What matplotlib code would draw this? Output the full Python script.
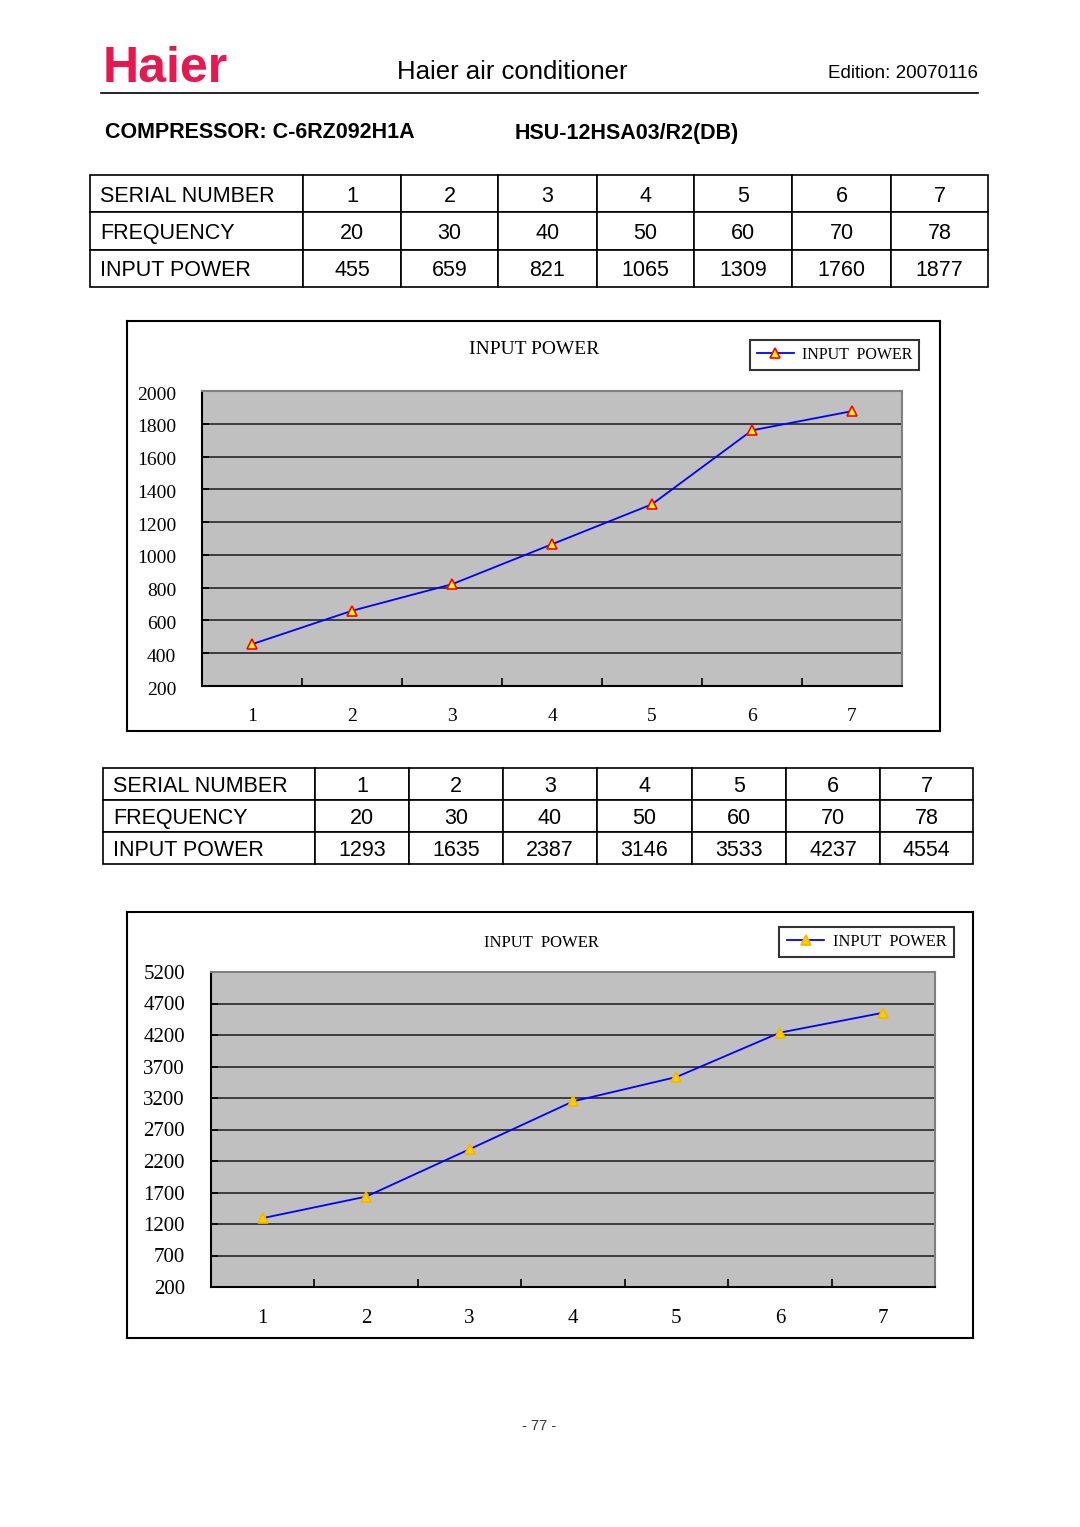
import matplotlib
matplotlib.use("Agg")
import matplotlib.pyplot as plt
from matplotlib.lines import Line2D
from matplotlib.transforms import ScaledTranslation

# ---------------- data ----------------
serial = [1, 2, 3, 4, 5, 6, 7]
freq = [20, 30, 40, 50, 60, 70, 78]
power_1 = [455, 659, 821, 1065, 1309, 1760, 1877]
power_2 = [1293, 1635, 2387, 3146, 3533, 4237, 4554]
row_labels = ["SERIAL NUMBER", "FREQUENCY", "INPUT POWER"]
yticks_1 = [200, 400, 600, 800, 1000, 1200, 1400, 1600, 1800, 2000]
yticks_2 = [200, 700, 1200, 1700, 2200, 2700, 3200, 3700, 4200, 4700, 5200]

W, H = 1080, 1527
fig = plt.figure(figsize=(W / 100, H / 100), dpi=100)
SANS = ["Liberation Sans", "DejaVu Sans"]
SERIF = ["Liberation Serif", "DejaVu Serif"]


def box(x0, y0, x1, y1):
    # pixel box -> figure fraction rect
    return [x0 / W, 1 - y1 / H, (x1 - x0) / W, (y1 - y0) / H]


def px(x, y):
    return x / W, 1 - y / H


# ---------------- header ----------------
fig.text(*px(103, 69), "Haier", fontsize=36, fontweight="bold", color="#e8174f",
         family=SANS, ha="left", va="center")
fig.text(*px(512, 72), "Haier air conditioner", fontsize=18.5, family=SANS,
         ha="center", va="center")
fig.text(*px(978, 73), "Edition: 20070116", fontsize=13.5, family=SANS,
         ha="right", va="center")
fig.add_artist(Line2D([101 / W, 978 / W], [1 - 93 / H, 1 - 93 / H], color="black", lw=1.2))
fig.text(*px(105, 133), "COMPRESSOR: C-6RZ092H1A", fontsize=15.5, fontweight="bold",
         family=SANS, ha="left", va="center")
fig.text(*px(515, 133), "HSU-12HSA03/R2(DB)", fontsize=15.5, fontweight="bold",
         family=SANS, ha="left", va="center")
fig.text(*px(539, 1426), "- 77 -", fontsize=10.5, family=SANS, color="#333333",
         ha="center", va="center")


# ---------------- tables ----------------
def draw_table(rect, col_px, power):
    ax = fig.add_axes(rect)
    ax.axis("off")
    cells = [
        [row_labels[0]] + [str(v) for v in serial],
        [row_labels[1]] + [str(v) for v in freq],
        [row_labels[2]] + [str(v) for v in power],
    ]
    total = sum(col_px)
    widths = [c / total for c in col_px]
    tb = ax.table(cellText=cells, colWidths=widths, cellLoc="center", bbox=[0, 0, 1, 1])
    tb.auto_set_font_size(False)
    tb.set_fontsize(15.5)
    for (r, c), cell in tb.get_celld().items():
        cell.set_linewidth(1.2)
        cell.set_edgecolor("black")
        txt = cell.get_text()
        txt.set_family(SANS)
        txt.set_va("center_baseline")
        if c == 0:
            cell._loc = "left"
            cell.PAD = 10 / col_px[0]
            txt.set_ha("left")
    return ax


draw_table(box(90, 175, 988, 287), [213, 98, 97, 99, 97, 98, 99, 97], power_1)
draw_table(box(103, 768, 973, 864), [212, 94, 94, 94, 95, 94, 94, 93], power_2)


# ---------------- charts ----------------
def draw_chart(frame, area, title, title_xy, leg_rect, values, yticks,
               mface, medge, fs, title_fs, leg_fs, ylab_shift):
    fr = fig.add_axes(box(*frame))
    fr.set_xticks([])
    fr.set_yticks([])
    fr.set_facecolor("white")
    for s in fr.spines.values():
        s.set_linewidth(1.5)
        s.set_color("black")
    fr.set_zorder(0)

    ax = fig.add_axes(box(*area))
    ax.set_zorder(1)
    ax.set_facecolor("#c0c0c0")
    ax.set_axisbelow(True)
    ax.plot(serial, values, color="#0000ff", lw=1.3, marker="^", ms=7,
            mfc=mface, mec=medge, mew=1.2, label="INPUT  POWER", clip_on=False)
    ax.set_xlim(0.5, 7.5)
    ax.set_ylim(yticks[0], yticks[-1])
    ax.set_yticks(yticks)
    ax.set_xticks(serial)
    ax.set_xticks([1.5, 2.5, 3.5, 4.5, 5.5, 6.5, 7.5], minor=True)
    ax.yaxis.grid(True, color="#1a1a1a", lw=1.1)
    ax.tick_params(axis="y", direction="in", length=5, width=1.2, pad=18.7,
                   labelsize=fs)
    ax.tick_params(axis="x", which="major", length=0, pad=15.5, labelsize=fs)
    ax.tick_params(axis="x", which="minor", direction="in", length=6, width=1.2)
    for lab in ax.get_xticklabels():
        lab.set_family(SERIF)
    shift = ScaledTranslation(0, -ylab_shift / 100, fig.dpi_scale_trans)
    for lab in ax.get_yticklabels():
        lab.set_family(SERIF)
        lab.set_va("center_baseline")
        lab.set_transform(lab.get_transform() + shift)
    ax.spines["left"].set_color("black")
    ax.spines["bottom"].set_color("black")
    ax.spines["top"].set_color("#808080")
    ax.spines["right"].set_color("#808080")
    for s in ax.spines.values():
        s.set_linewidth(1.5)

    fig.text(*px(*title_xy), title, fontsize=title_fs, family=SERIF,
             ha="center", va="center")
    leg = fig.legend(loc="center", bbox_to_anchor=box(*leg_rect),
                     handles=ax.get_lines(), frameon=True, fancybox=False,
                     edgecolor="black", handlelength=2.3, handletextpad=0.5,
                     borderpad=0.45, prop={"family": SERIF, "size": leg_fs})
    leg.get_frame().set_linewidth(1.5)
    return ax


draw_chart((127, 321, 940, 731), (202, 391, 902, 686), "INPUT POWER", (534, 349),
           (752, 338, 917, 372), power_1, yticks_1, "#ffff00", "#ff0000", 14, 14, 11.5, 2)
draw_chart((127, 912, 973, 1338), (211, 972, 935, 1287), "INPUT  POWER", (541, 943),
           (774, 924, 959, 960), power_2, yticks_2, "#ffcc00", "#f0b800", 15, 12, 11.8, 0)

fig.savefig("out.png", dpi=100)
